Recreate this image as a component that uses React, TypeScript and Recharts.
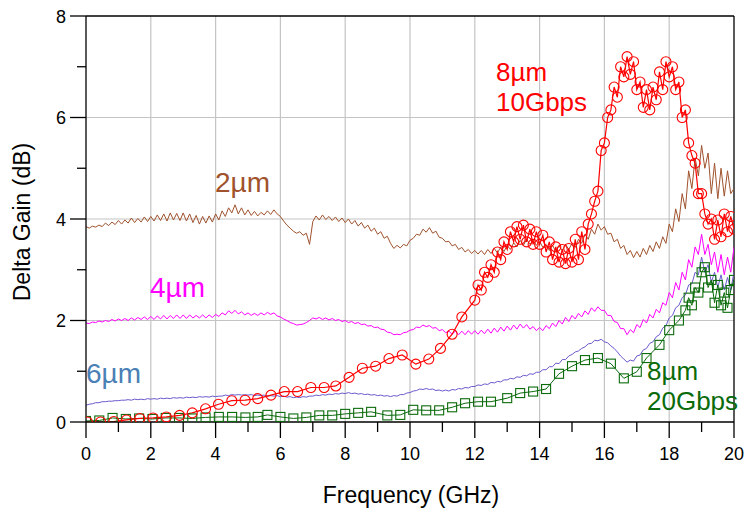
import React from 'react';
import { LineChart, Line, XAxis, YAxis, ReferenceLine } from 'recharts';

// Frequency samples (GHz) for the dense traces
const FREQ = [
  0, 0.1, 0.2, 0.3, 0.4, 0.5, 0.6, 0.7, 0.8, 0.9,
  1, 1.1, 1.2, 1.3, 1.4, 1.5, 1.6, 1.7, 1.8, 1.9,
  2, 2.1, 2.2, 2.3, 2.4, 2.5, 2.6, 2.7, 2.8, 2.9,
  3, 3.1, 3.2, 3.3, 3.4, 3.5, 3.6, 3.7, 3.8, 3.9,
  4, 4.1, 4.2, 4.3, 4.4, 4.5, 4.6, 4.7, 4.8, 4.9,
  5, 5.1, 5.2, 5.3, 5.4, 5.5, 5.6, 5.7, 5.8, 5.9,
  6, 6.1, 6.2, 6.3, 6.4, 6.5, 6.6, 6.7, 6.8, 6.9,
  7, 7.1, 7.2, 7.3, 7.4, 7.5, 7.6, 7.7, 7.8, 7.9,
  8, 8.1, 8.2, 8.3, 8.4, 8.5, 8.6, 8.7, 8.8, 8.9,
  9, 9.1, 9.2, 9.3, 9.4, 9.5, 9.6, 9.7, 9.8, 9.9,
  10, 10.1, 10.2, 10.3, 10.4, 10.5, 10.6, 10.7, 10.8, 10.9,
  11, 11.1, 11.2, 11.3, 11.4, 11.5, 11.6, 11.7, 11.8, 11.9,
  12, 12.1, 12.2, 12.3, 12.4, 12.5, 12.6, 12.7, 12.8, 12.9,
  13, 13.1, 13.2, 13.3, 13.4, 13.5, 13.6, 13.7, 13.8, 13.9,
  14, 14.1, 14.2, 14.3, 14.4, 14.5, 14.6, 14.7, 14.8, 14.9,
  15, 15.1, 15.2, 15.3, 15.4, 15.5, 15.6, 15.7, 15.8, 15.9,
  16, 16.1, 16.2, 16.3, 16.4, 16.5, 16.6, 16.7, 16.8, 16.9,
  17, 17.1, 17.2, 17.3, 17.4, 17.5, 17.6, 17.7, 17.8, 17.9,
  18, 18.1, 18.2, 18.3, 18.4, 18.5, 18.6, 18.7, 18.8, 18.9,
  19, 19.1, 19.2, 19.3, 19.4, 19.5, 19.6, 19.7, 19.8, 19.9,
  20,
];

// 2 µm trace (dB)
const GAIN_2UM = [
  3.85, 3.82, 3.86, 3.84, 3.88, 3.85, 3.92, 3.87, 3.94, 3.89,
  3.97, 3.9, 3.98, 3.92, 4.02, 3.93, 4.01, 3.94, 4.04, 3.95,
  4.05, 3.96, 4.08, 3.97, 4.1, 3.96, 4.12, 3.98, 4.11, 3.97,
  4.12, 3.96, 4.1, 3.93, 4.07, 3.9, 4.05, 3.92, 4.06, 3.94,
  4.1, 3.98, 4.16, 4.05, 4.22, 4.12, 4.28, 4.1, 4.22, 4.08,
  4.18, 4.07, 4.15, 4.06, 4.13, 4.08, 4.16, 4.09, 4.18, 4.1,
  4.05, 3.96, 3.88, 3.82, 3.76, 3.72, 3.75, 3.68, 3.72, 3.5,
  3.95, 4.06, 3.98, 4.08, 3.99, 4.05, 3.97, 4.04, 3.95, 4.02,
  3.93, 4.0, 3.9, 3.97, 3.86, 3.93, 3.82, 3.88, 3.76, 3.82,
  3.7, 3.75, 3.62, 3.66, 3.52, 3.42, 3.48, 3.43, 3.5, 3.47,
  3.58, 3.62, 3.7, 3.68, 3.8, 3.74, 3.83, 3.72, 3.76, 3.64,
  3.62, 3.55, 3.56, 3.47, 3.5, 3.4, 3.44, 3.35, 3.4, 3.32,
  3.38, 3.31, 3.38, 3.3, 3.4, 3.32, 3.42, 3.33, 3.45, 3.36,
  3.48, 3.4, 3.53, 3.45, 3.58, 3.48, 3.6, 3.5, 3.58, 3.48,
  3.56, 3.44, 3.5, 3.38, 3.48, 3.36, 3.47, 3.38, 3.5, 3.4,
  3.52, 3.44, 3.6, 3.52, 3.7, 3.6, 3.8, 3.7, 3.9, 3.78,
  3.85, 3.7, 3.72, 3.55, 3.6, 3.42, 3.48, 3.3, 3.38, 3.24,
  3.36, 3.25, 3.42, 3.3, 3.48, 3.36, 3.55, 3.42, 3.65, 3.52,
  3.9, 3.75, 4.2, 3.95, 4.5, 4.2, 4.95, 4.6, 5.2, 4.85,
  5.45, 5.0, 5.3, 4.5, 5.1, 4.4, 5.0, 4.45, 4.95, 4.5,
  4.6,
];

// 4 µm trace (dB)
const GAIN_4UM = [
  1.95, 1.94, 1.97, 1.96, 1.99, 1.97, 2.0, 1.98, 2.02, 1.99,
  2.03, 2.0, 2.04, 2.0, 2.05, 2.01, 2.06, 2.02, 2.07, 2.02,
  2.08, 2.02, 2.09, 2.03, 2.1, 2.03, 2.1, 2.04, 2.11, 2.04,
  2.11, 2.04, 2.11, 2.05, 2.1, 2.05, 2.11, 2.05, 2.11, 2.06,
  2.12, 2.08, 2.15, 2.11, 2.19, 2.14, 2.2, 2.13, 2.17, 2.11,
  2.15, 2.1, 2.14, 2.1, 2.15, 2.11, 2.16, 2.12, 2.15, 2.09,
  2.07, 2.03, 2.0, 1.96, 1.94, 1.91, 1.92, 1.93, 1.96, 2.0,
  2.05, 2.03, 2.06, 2.02, 2.05, 2.01, 2.04, 2.0, 2.02, 1.98,
  2.0, 1.96, 1.98, 1.94, 1.96, 1.92, 1.93, 1.89, 1.9, 1.86,
  1.87, 1.83, 1.82, 1.77, 1.76, 1.72, 1.73, 1.72, 1.76, 1.77,
  1.81, 1.82, 1.87, 1.86, 1.91, 1.88, 1.9, 1.85, 1.86, 1.8,
  1.82, 1.76, 1.79, 1.73, 1.79, 1.72, 1.79, 1.72, 1.8, 1.73,
  1.8, 1.73, 1.81, 1.74, 1.83, 1.75, 1.85, 1.77, 1.87, 1.79,
  1.89, 1.81, 1.91, 1.83, 1.93, 1.85, 1.92, 1.83, 1.88, 1.8,
  1.86, 1.8, 1.9, 1.84, 1.95, 1.88, 2.0, 1.93, 2.06, 1.98,
  2.1, 2.03, 2.14, 2.07, 2.19, 2.12, 2.25, 2.18, 2.27, 2.2,
  2.2, 2.1, 2.1, 1.98, 1.96, 1.84, 1.84, 1.72, 1.82, 1.76,
  1.92, 1.86, 2.02, 1.95, 2.12, 2.05, 2.22, 2.15, 2.35, 2.3,
  2.55, 2.45, 2.75, 2.6, 2.95, 2.8, 3.2, 3.05, 3.45, 3.3,
  3.7, 3.3, 3.5, 3.1, 3.35, 2.95, 3.3, 2.9, 3.25, 2.95,
  3.45,
];

// 6 µm trace (dB)
const GAIN_6UM = [
  0.33, 0.35, 0.36, 0.38, 0.38, 0.4, 0.4, 0.41, 0.41, 0.42,
  0.42, 0.43, 0.43, 0.44, 0.43, 0.45, 0.44, 0.45, 0.44, 0.46,
  0.45, 0.46, 0.45, 0.47, 0.46, 0.47, 0.46, 0.48, 0.47, 0.48,
  0.47, 0.49, 0.48, 0.49, 0.48, 0.5, 0.49, 0.5, 0.49, 0.51,
  0.5, 0.51, 0.51, 0.53, 0.52, 0.54, 0.53, 0.54, 0.53, 0.54,
  0.53, 0.54, 0.52, 0.53, 0.52, 0.53, 0.51, 0.52, 0.51, 0.52,
  0.5, 0.51, 0.49, 0.5, 0.48, 0.49, 0.48, 0.5, 0.49, 0.51,
  0.51, 0.53, 0.52, 0.54, 0.53, 0.55, 0.54, 0.56, 0.55, 0.57,
  0.56, 0.58, 0.56, 0.57, 0.55, 0.56, 0.54, 0.55, 0.53, 0.54,
  0.52, 0.53, 0.51, 0.52, 0.5, 0.52, 0.51, 0.54, 0.54, 0.57,
  0.58, 0.61, 0.62, 0.65, 0.64, 0.66, 0.64, 0.65, 0.62, 0.63,
  0.61, 0.63, 0.61, 0.64, 0.63, 0.66, 0.65, 0.68, 0.67, 0.7,
  0.7, 0.73, 0.72, 0.75, 0.74, 0.78, 0.77, 0.8, 0.79, 0.83,
  0.83, 0.86, 0.85, 0.89, 0.88, 0.92, 0.91, 0.95, 0.94, 0.98,
  0.98, 1.03, 1.03, 1.09, 1.09, 1.16, 1.15, 1.23, 1.23, 1.3,
  1.33, 1.38, 1.4, 1.45, 1.48, 1.54, 1.55, 1.61, 1.6, 1.63,
  1.58, 1.56, 1.5, 1.45, 1.38, 1.3, 1.24, 1.18, 1.22, 1.2,
  1.3, 1.32, 1.42, 1.45, 1.55, 1.58, 1.68, 1.72, 1.85, 1.9,
  2.05, 2.1, 2.25, 2.3, 2.45, 2.5, 2.7, 2.72, 2.95, 2.9,
  3.25, 2.95, 3.1, 2.75, 2.95, 2.65, 2.9, 2.6, 2.85, 2.6,
  2.95,
];

// 8 µm, 10 Gbps (circle markers)
const FREQ_10G = [
  0.04, 0.45, 0.86, 1.25, 1.66, 2.07, 2.48, 2.89, 3.28, 3.69,
  4.09, 4.5, 4.91, 5.3, 5.71, 6.12, 6.53, 6.94, 7.35, 7.71,
  8.12, 8.53, 8.94, 9.35, 9.76, 10.18, 10.58, 10.94, 11.3, 11.6,
  12.0, 12.1, 12.2, 12.3, 12.4, 12.5, 12.6, 12.7, 12.8, 12.9,
  13.0, 13.1, 13.2, 13.3, 13.4, 13.5, 13.6, 13.7, 13.8, 13.9,
  14.0, 14.1, 14.2, 14.3, 14.4, 14.5, 14.6, 14.7, 14.8, 14.9,
  15.0, 15.1, 15.2, 15.3, 15.4, 15.5, 15.6, 15.7, 15.8, 15.9,
  16.0, 16.1, 16.2, 16.3, 16.4, 16.5, 16.6, 16.7, 16.8, 16.9,
  17.0, 17.1, 17.2, 17.3, 17.4, 17.5, 17.6, 17.7, 17.8, 17.9,
  18.0, 18.1, 18.2, 18.3, 18.4, 18.5, 18.6, 18.7, 18.8, 18.9,
  19.0, 19.1, 19.2, 19.3, 19.4, 19.5, 19.6, 19.7, 19.8, 19.9,
  20.0,
];
const GAIN_10G = [
  0, 0, 0.01, 0.04, 0.07, 0.08, 0.1, 0.13, 0.18, 0.26,
  0.35, 0.42, 0.43, 0.46, 0.53, 0.6, 0.6, 0.68, 0.68, 0.71,
  0.88, 1.06, 1.1, 1.25, 1.32, 1.14, 1.24, 1.45, 1.73, 2.07,
  2.4, 2.7, 2.6, 2.95, 2.85, 3.1, 2.95, 3.35, 3.2, 3.55,
  3.4, 3.75, 3.55, 3.85, 3.6, 3.88, 3.55, 3.8, 3.5, 3.75,
  3.5, 3.68, 3.35, 3.55, 3.2, 3.45, 3.15, 3.4, 3.12, 3.42,
  3.15, 3.6, 3.2, 3.75, 3.4, 3.9, 4.1, 4.35, 4.55, 5.35,
  5.5, 6.0, 6.15, 6.6, 6.4, 7.0, 6.8, 7.2, 6.85, 7.1,
  6.55, 6.7, 6.2, 6.55, 6.15, 6.6, 6.35, 6.9, 6.55, 7.1,
  6.8, 7.0, 6.55, 6.7, 6.0, 6.15, 5.5, 5.25, 5.1, 4.5,
  4.5, 4.1, 3.9, 4.0, 3.6, 3.98, 3.65, 4.1, 3.75, 4.05,
  3.8,
];

// 8 µm, 20 Gbps (square markers)
const FREQ_20G = [
  0, 0.41, 0.82, 1.23, 1.64, 2.05, 2.46, 2.87, 3.28, 3.69,
  4.1, 4.51, 4.92, 5.3, 5.6, 6.0, 6.4, 6.8, 7.2, 7.6,
  8.0, 8.4, 8.8, 9.3, 9.7, 10.1, 10.5, 10.9, 11.3, 11.7,
  12.1, 12.5, 13.0, 13.4, 13.8, 14.2, 14.6, 15.0, 15.4, 15.8,
  16.2, 16.6, 17.0, 17.3, 17.7, 18.0, 18.3, 18.5, 18.6, 18.7,
  18.8, 18.9, 19.0, 19.1, 19.2, 19.3, 19.4, 19.5, 19.6, 19.7,
  19.8, 19.9, 20.0,
];
const GAIN_20G = [
  0.02, 0.03, 0.08, 0.06, 0.07, 0.06, 0.08, 0.08, 0.07, 0.09,
  0.1, 0.1, 0.09, 0.1, 0.14, 0.1, 0.07, 0.09, 0.13, 0.13,
  0.16, 0.18, 0.2, 0.13, 0.14, 0.24, 0.23, 0.23, 0.29, 0.37,
  0.4, 0.4, 0.47, 0.57, 0.6, 0.65, 0.95, 1.1, 1.22, 1.26,
  1.15, 0.86, 0.99, 1.26, 1.52, 1.81, 2.0, 2.2, 2.45, 2.3,
  2.65, 2.55, 2.95, 3.05, 2.65, 2.8, 2.35, 2.7, 2.3, 2.55,
  2.25, 2.6, 2.8,
];

const X_TICKS = [0, 1, 2, 3, 4, 5, 6, 7, 8, 9, 10, 11, 12, 13, 14, 15, 16, 17, 18, 19, 20];
const Y_TICKS = [0, 1, 2, 3, 4, 5, 6, 7, 8];
const X_GRID = [2, 4, 6, 8, 10, 12, 14, 16, 18];
const Y_GRID = [2, 4, 6];

const FONT = '"Liberation Sans", Arial, Helvetica, sans-serif';

const pts = (fs: number[], vs: number[]) => fs.map((f, i) => ({ f, v: vs[i] }));

const data2 = pts(FREQ, GAIN_2UM);
const data4 = pts(FREQ, GAIN_4UM);
const data6 = pts(FREQ, GAIN_6UM);
const data10 = pts(FREQ_10G, GAIN_10G);
const data20 = pts(FREQ_20G, GAIN_20G);

const XTick = (props: any) => {
  const { x, y, payload } = props;
  const major = payload.value % 2 === 0;
  return (
    <g>
      <line x1={x} x2={x} y1={y} y2={y + (major ? 16 : 10)} stroke="#000" strokeWidth={1.3} />
      {major && (
        <text x={x} y={y + 38} textAnchor="middle" fontSize={18} fontFamily={FONT} fill="#000">
          {payload.value}
        </text>
      )}
    </g>
  );
};

const YTick = (props: any) => {
  const { x, y, payload } = props;
  const major = payload.value % 2 === 0;
  return (
    <g>
      <line x1={x} x2={x - (major ? 16 : 9)} y1={y} y2={y} stroke="#000" strokeWidth={1.3} />
      {major && (
        <text x={x - 20} y={y + 6.5} textAnchor="end" fontSize={18} fontFamily={FONT} fill="#000">
          {payload.value}
        </text>
      )}
    </g>
  );
};

const SquareDot = (props: any) => {
  const { cx, cy, index } = props;
  if (cx == null || cy == null) return <g key={`sq-${index}`} />;
  return (
    <rect key={`sq-${index}`} x={cx - 4.5} y={cy - 4.5} width={9} height={9} fill="none" stroke="#0b6b0b" strokeWidth={1.1} />
  );
};

export default function App() {
  return (
    <div style={{ position: 'absolute', left: 0, top: 0, width: 746, height: 512, background: '#fff' }}>
      <LineChart width={746} height={512} margin={{ top: 16, right: 12, bottom: 0, left: 26 }}>
        <XAxis
          type="number"
          dataKey="f"
          domain={[0, 20]}
          ticks={X_TICKS}
          interval={0}
          tickSize={0}
          tickMargin={0}
          tickLine={false}
          tick={<XTick />}
          height={90}
          axisLine={{ stroke: '#000', strokeWidth: 1.3 }}
          allowDataOverflow
        />
        <YAxis
          type="number"
          domain={[0, 8]}
          ticks={Y_TICKS}
          interval={0}
          tickSize={0}
          tickMargin={0}
          tickLine={false}
          tick={<YTick />}
          width={60}
          axisLine={{ stroke: '#000', strokeWidth: 1.3 }}
          allowDataOverflow
        />
        {X_GRID.map((g) => (
          <ReferenceLine key={`gx${g}`} x={g} stroke="#c4c4c4" strokeWidth={1.2} />
        ))}
        {Y_GRID.map((g) => (
          <ReferenceLine key={`gy${g}`} y={g} stroke="#c4c4c4" strokeWidth={1.2} />
        ))}
        <ReferenceLine y={8} stroke="#000" strokeWidth={1.3} />
        <ReferenceLine x={20} stroke="#000" strokeWidth={1.3} />
        <Line data={data2} dataKey="v" type="linear" stroke="#a0522d" strokeWidth={1} dot={false} isAnimationActive={false} />
        <Line data={data4} dataKey="v" type="linear" stroke="#ff00ff" strokeWidth={1} dot={false} isAnimationActive={false} />
        <Line data={data6} dataKey="v" type="linear" stroke="#6a5acd" strokeWidth={1} dot={false} isAnimationActive={false} />
        <Line data={data20} dataKey="v" type="linear" stroke="#0b6b0b" strokeWidth={1} dot={<SquareDot />} isAnimationActive={false} />
        <Line
          data={data10}
          dataKey="v"
          type="linear"
          stroke="#ff0000"
          strokeWidth={1.2}
          dot={{ r: 5, stroke: '#ff0000', strokeWidth: 1.1, fill: 'none' }}
          isAnimationActive={false}
        />
      </LineChart>
      <svg width={746} height={512} style={{ position: 'absolute', left: 0, top: 0, pointerEvents: 'none' }}>
        <g fontFamily={FONT}>
          <text x={411} y={503} textAnchor="middle" fontSize={23} fill="#000">Frequency (GHz)</text>
          <text x={30} y={222} textAnchor="middle" fontSize={23} fill="#000" transform="rotate(-90, 30, 222)">Delta Gain (dB)</text>
          <text x={215} y={192} fontSize={28} fill="#a0522d">2µm</text>
          <text x={150} y={297} fontSize={28} fill="#ff00ff">4µm</text>
          <text x={86} y={383} fontSize={28} fill="#4a80b5">6µm</text>
          <text x={496} y={81} fontSize={26} fill="#ff0000">8µm</text>
          <text x={496} y={111} fontSize={26} fill="#ff0000">10Gbps</text>
          <text x={647} y={380} fontSize={26} fill="#0b6b0b">8µm</text>
          <text x={647} y={410} fontSize={26} fill="#0b6b0b">20Gbps</text>
        </g>
      </svg>
    </div>
  );
}
